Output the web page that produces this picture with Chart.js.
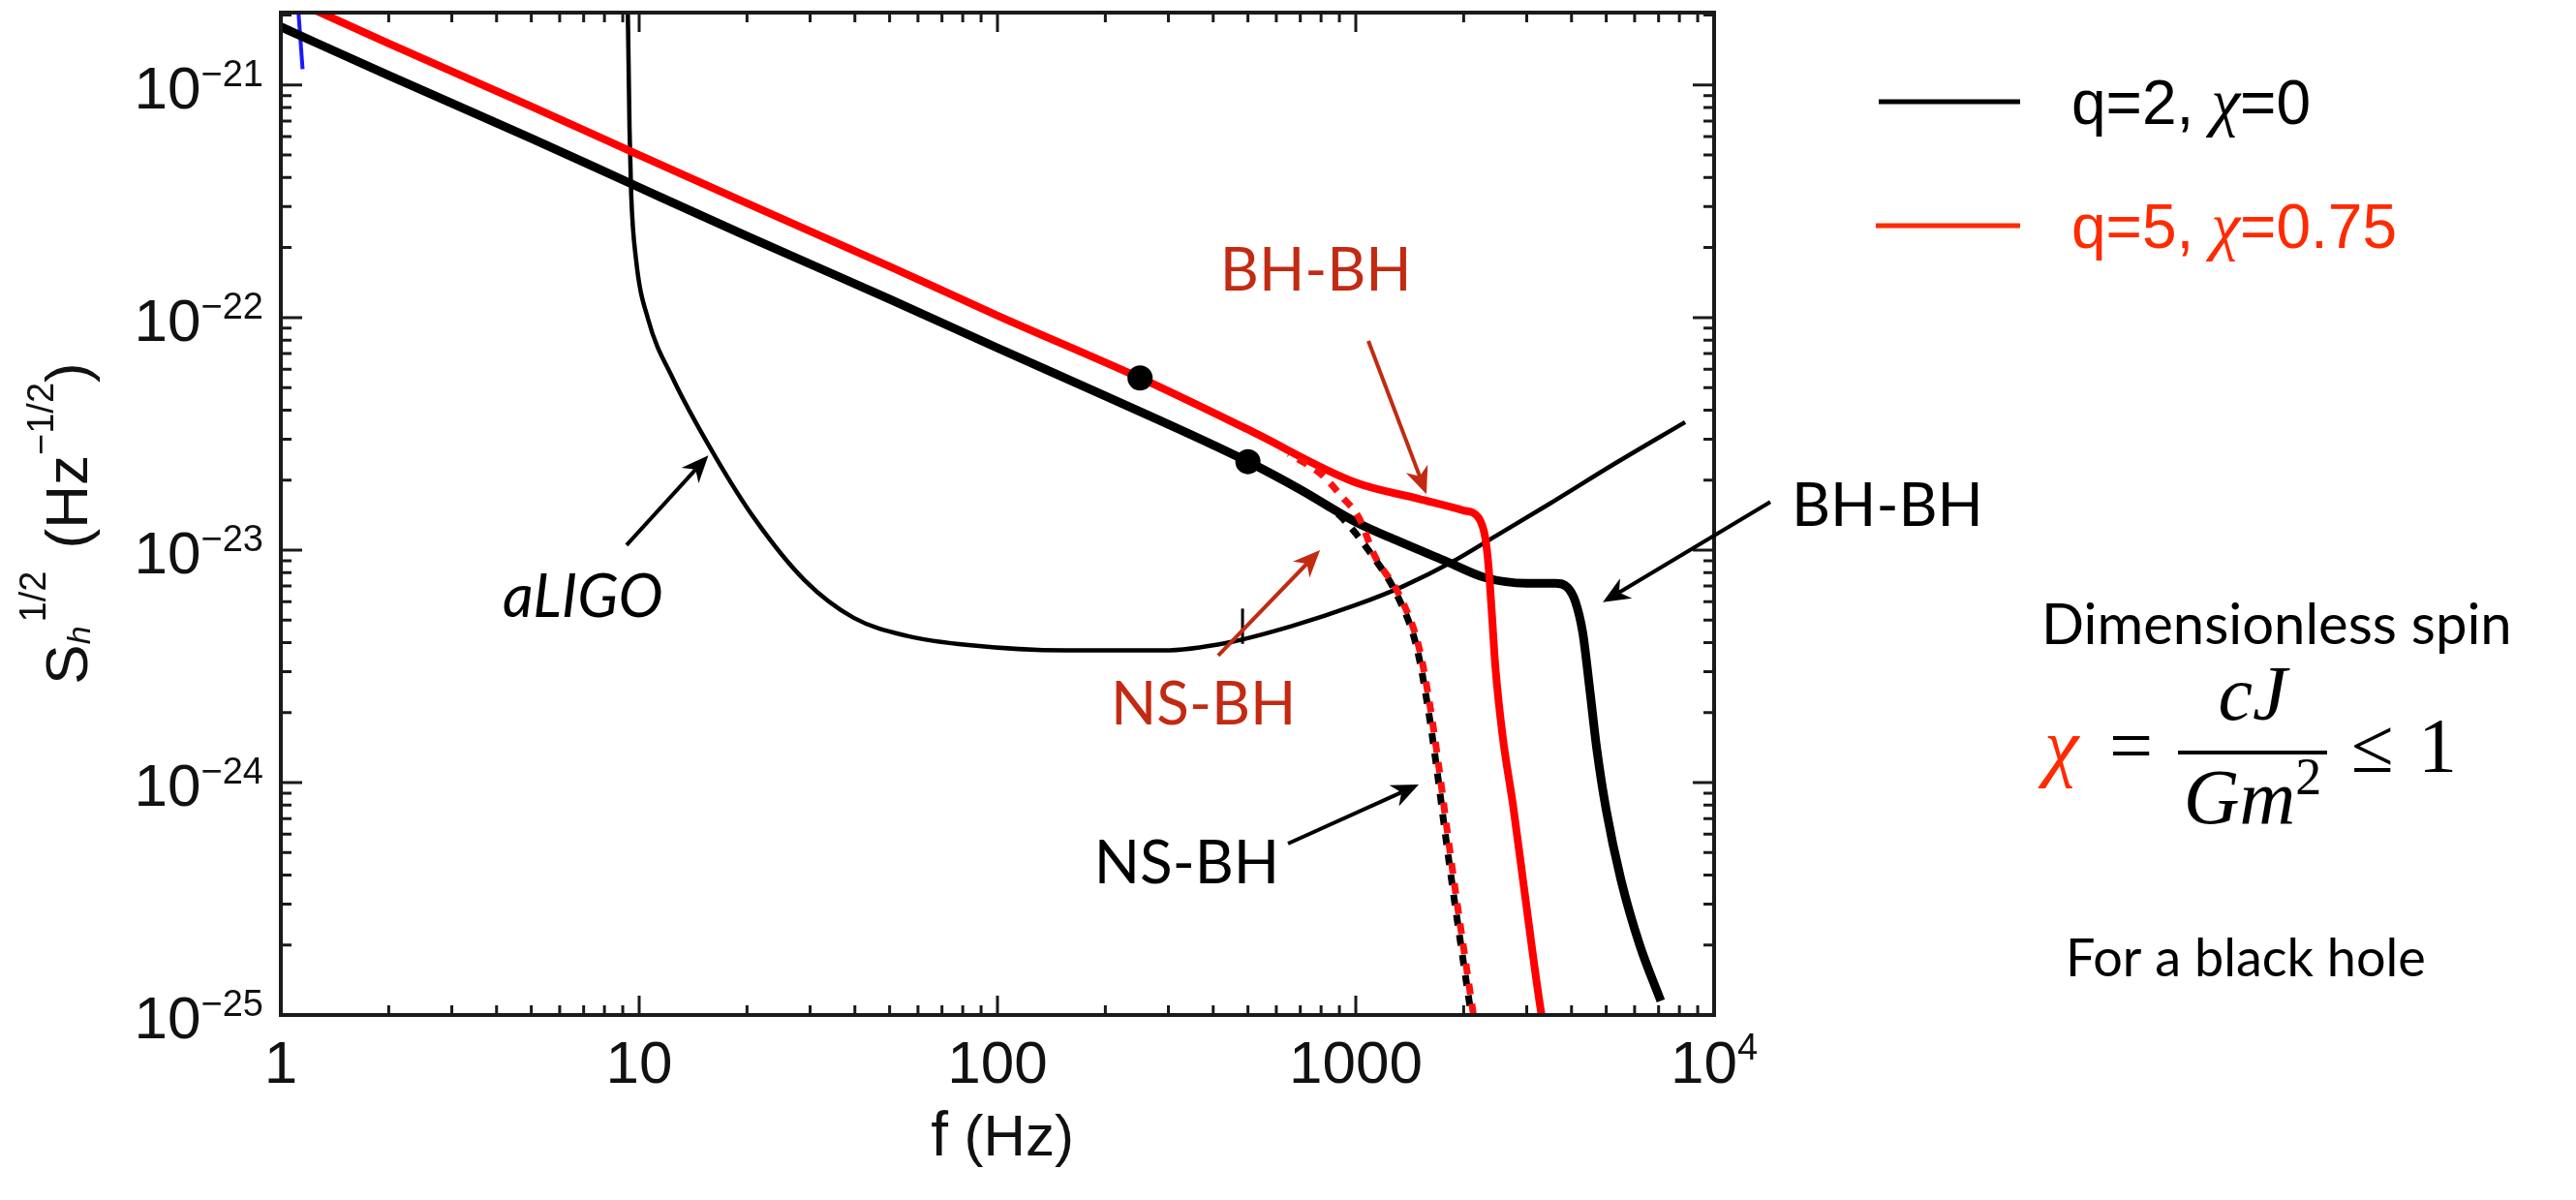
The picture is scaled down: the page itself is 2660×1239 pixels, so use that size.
<!DOCTYPE html>
<html>
<head>
<meta charset="utf-8">
<script src="https://cdn.jsdelivr.net/npm/chart.js@4.4.1/dist/chart.umd.min.js"></script>
<style>
  html, body { margin: 0; padding: 0; background: #fff; }
  canvas { display: block; }
</style>
</head>
<body>
<canvas id="sens" width="2660" height="1239"></canvas>
<script>
// strain amplitude sqrt(S_h) in Hz^-1/2 against frequency in Hz

// BH-BH, q=2, chi=0
const bbhFreqQ2 = [1, 2, 5, 10, 20, 50, 100, 200, 500, 700, 1000, 1300, 1800, 2300, 3000, 3600, 3900, 4100, 4300, 4500, 4700, 5000, 5500, 6200, 7100];
const bbhAmpQ2 = [1.78e-21, 1.10e-21, 5.9e-22, 3.63e-22, 2.24e-22, 1.20e-22, 7.4e-23, 4.6e-23, 2.4e-23, 1.82e-23, 1.32e-23, 1.10e-23, 8.9e-24, 7.6e-24, 7.2e-24, 7.2e-24, 6.9e-24, 6.0e-24, 4.4e-24, 2.5e-24, 1.41e-24, 7.6e-25, 3.8e-25, 2.0e-25, 1.15e-25];

// BH-BH, q=5, chi=0.75
const bbhFreqQ5 = [1, 2, 5, 10, 20, 50, 100, 250, 500, 1000, 1500, 2000, 2200, 2300, 2350, 2400, 2450, 2570, 2750, 2950, 3300, 3400];
const bbhAmpQ5 = [2.45e-21, 1.51e-21, 8.1e-22, 5.0e-22, 3.1e-22, 1.66e-22, 1.02e-22, 5.5e-23, 3.3e-23, 1.95e-23, 1.66e-23, 1.48e-23, 1.38e-23, 1.12e-23, 8.3e-24, 5.2e-24, 3.2e-24, 1.58e-24, 7.9e-25, 3.5e-25, 1.0e-25, 8e-26];

// NS-BH branches
const nsbhFreqQ2 = [800, 900, 1110, 1310, 1480, 1590, 1680, 1770, 1880, 2000, 2100];
const nsbhAmpQ2 = [1.6e-23, 1.41e-23, 9.5e-24, 6.3e-24, 3.8e-24, 2.1e-24, 1.17e-24, 6.3e-25, 3.2e-25, 1.66e-25, 1.0e-25];
const nsbhFreqQ5 = [650, 800, 920, 1020, 1127, 1330, 1502, 1614, 1705, 1797, 1908, 2030, 2130];
const nsbhAmpQ5 = [2.6e-23, 2.12e-23, 1.68e-23, 1.38e-23, 9.5e-24, 6.3e-24, 3.8e-24, 2.1e-24, 1.17e-24, 6.3e-25, 3.2e-25, 1.66e-25, 1.0e-25];

// aLIGO design noise
const aligoFreq = [9.2, 9.3, 9.4, 9.5, 9.8, 10.6, 12.4, 16.2, 21.1, 29, 39.8, 56, 83, 155, 290, 440, 660, 1000, 1360, 1860, 2390, 3470, 5250, 8300];
const aligoAsd = [1e-20, 2.0e-21, 6.5e-22, 3.4e-22, 1.78e-22, 9.8e-23, 5.5e-23, 2.57e-23, 1.35e-23, 7.4e-24, 5.1e-24, 4.27e-24, 3.9e-24, 3.7e-24, 3.7e-24, 4.0e-24, 4.7e-24, 5.8e-24, 7.0e-24, 8.9e-24, 1.12e-23, 1.58e-23, 2.34e-23, 3.55e-23];

// dots on the inspiral lines
const markerFreq = [250, 500];
const markerAmp = [5.5e-23, 2.4e-23];

// small stray strokes
const notchFreq = [483, 483];
const notchAmp = [3.95e-24, 5.6e-24];
const stubFreq = [1.12, 1.15];
const stubAmp = [2.05e-21, 1.17e-21];

// axes
const xTickValues = [1, 10, 100, 1000, 10000];
const xTickText = ['1', '10', '100', '1000', '10'];
const xTickSup = ['', '', '', '', '4'];
const yTickExp = [-21, -22, -23, -24, -25];

const sansFont = '"Liberation Sans", Arial, sans-serif';
const noteFont = 'Lato, "Noto Sans", sans-serif';
const mathFont = '"Liberation Serif", "Times New Roman", serif';
const noteRed = '#c22a12';

function pts(xs, ys) {
  return xs.map((x, i) => ({ x: x, y: ys[i] }));
}

// in-plot labels and arrows, placed in data coordinates
const notes = [
  { text: 'BH-BH', f: 418, s: 1.31e-22, color: noteRed, italic: false },
  { text: 'NS-BH', f: 207, s: 1.78e-24, color: noteRed, italic: false },
  { text: 'NS-BH', f: 186, s: 3.69e-25, color: '#000', italic: false },
  { text: 'BH-BH', f: 16450, s: 1.27e-23, color: '#000', italic: false },
  { text: 'aLIGO', f: 4.16, s: 5.15e-24, color: '#000', italic: true },
];
const pointers = [
  { from: [9.22, 1.05e-23], to: [15.6, 2.55e-23], color: '#000' },
  { from: [1084, 7.94e-23], to: [1575, 1.74e-23], color: noteRed },
  { from: [413, 3.52e-24], to: [795, 1.0e-23], color: noteRed },
  { from: [647, 5.46e-25], to: [1499, 9.8e-25], color: '#000' },
  { from: [14350, 1.61e-23], to: [4890, 5.96e-24], color: '#000' },
];

function drawRuns(ctx, x, y, runs) {
  let cx = x;
  runs.forEach((r) => {
    ctx.font = r.font;
    if (r.color) ctx.fillStyle = r.color;
    ctx.fillText(r.t, cx, y + (r.dy || 0));
    cx += ctx.measureText(r.t).width + (r.gap || 0);
  });
  return cx;
}

function runsWidth(ctx, runs) {
  let w = 0;
  runs.forEach((r) => {
    ctx.font = r.font;
    w += ctx.measureText(r.t).width + (r.gap || 0);
  });
  return w;
}

function arrow(ctx, x0, y0, x1, y1, color) {
  const a = Math.atan2(y1 - y0, x1 - x0);
  const c = Math.cos(a), s = Math.sin(a);
  const L = 28, W = 12;
  ctx.strokeStyle = color;
  ctx.fillStyle = color;
  ctx.lineWidth = 4;
  ctx.beginPath();
  ctx.moveTo(x0, y0);
  ctx.lineTo(x1 - L * 0.7 * c, y1 - L * 0.7 * s);
  ctx.stroke();
  ctx.beginPath();
  ctx.moveTo(x1, y1);
  ctx.lineTo(x1 - L * c + W * s, y1 - L * s - W * c);
  ctx.lineTo(x1 - L * 0.7 * c, y1 - L * 0.7 * s);
  ctx.lineTo(x1 - L * c - W * s, y1 - L * s + W * c);
  ctx.closePath();
  ctx.fill();
}

const framePlugin = {
  id: 'frame',
  afterDraw(chart) {
    const { ctx, chartArea: a, scales } = chart;
    const x = scales.x, y = scales.y;
    ctx.save();

    // frame and inward ticks on all four sides
    ctx.strokeStyle = '#1a1a1a';
    ctx.lineWidth = 4;
    ctx.strokeRect(a.left, a.top, a.right - a.left, a.bottom - a.top);
    ctx.lineWidth = 3;
    ctx.beginPath();
    for (let d = 1; d <= 10000; d *= 10) {
      for (let m = 1; m <= 9; m++) {
        const v = d * m;
        if (v > 10000) break;
        const px = x.getPixelForValue(v);
        const len = m === 1 ? 20 : 10;
        ctx.moveTo(px, a.bottom); ctx.lineTo(px, a.bottom - len);
        ctx.moveTo(px, a.top); ctx.lineTo(px, a.top + len);
      }
    }
    for (let e = -25; e <= -21; e++) {
      for (let m = 1; m <= 9; m++) {
        const v = m * Math.pow(10, e);
        if (v > y.max) break;
        const py = y.getPixelForValue(v);
        const len = m === 1 ? 22 : 11;
        ctx.moveTo(a.left, py); ctx.lineTo(a.left + len, py);
        ctx.moveTo(a.right, py); ctx.lineTo(a.right - len, py);
      }
    }
    ctx.stroke();

    // tick labels
    ctx.fillStyle = '#111';
    ctx.textBaseline = 'alphabetic';
    ctx.textAlign = 'left';
    xTickValues.forEach((v, i) => {
      const runs = [{ t: xTickText[i], font: '62px ' + sansFont }];
      if (xTickSup[i]) runs.push({ t: xTickSup[i], font: '38px ' + sansFont, dy: -24 });
      const w = runsWidth(ctx, runs);
      drawRuns(ctx, x.getPixelForValue(v) - w / 2, a.bottom + 70, runs);
    });
    yTickExp.forEach((e) => {
      const runs = [
        { t: '10', font: '62px ' + sansFont },
        { t: '\u2212' + Math.abs(e), font: '38px ' + sansFont, dy: -23 },
      ];
      const w = runsWidth(ctx, runs);
      drawRuns(ctx, a.left - 18 - w, y.getPixelForValue(Math.pow(10, e)) + 24, runs);
    });

    // axis titles
    const fx = [
      { t: 'f', font: '64px ' + sansFont },
      { t: ' (Hz)', font: '60px ' + sansFont },
    ];
    drawRuns(ctx, 1035 - runsWidth(ctx, fx) / 2, 1193, fx);

    ctx.save();
    ctx.translate(90, (a.top + a.bottom) / 2 + 10);
    ctx.rotate(-Math.PI / 2);
    const sy = [
      { t: 'S', font: '62px ' + sansFont },
      { t: 'h', font: 'italic 34px ' + sansFont, dy: 3, gap: 4 },
      { t: '1/2', font: '38px ' + sansFont, dy: -43, gap: 6 },
      { t: ' (Hz', font: '62px ' + sansFont },
      { t: '\u22121/2', font: '38px ' + sansFont, dy: -35 },
      { t: ')', font: '62px ' + sansFont },
    ];
    drawRuns(ctx, -runsWidth(ctx, sy) / 2, 0, sy);
    ctx.restore();

    // arrows and curve labels
    pointers.forEach((p) => {
      arrow(ctx,
        x.getPixelForValue(p.from[0]), y.getPixelForValue(p.from[1]),
        x.getPixelForValue(p.to[0]), y.getPixelForValue(p.to[1]), p.color);
    });
    notes.forEach((n) => {
      ctx.font = (n.italic ? 'italic ' : '') + '62px ' + noteFont;
      ctx.fillStyle = n.color;
      ctx.fillText(n.text, x.getPixelForValue(n.f), y.getPixelForValue(n.s));
    });

    // legend
    ctx.lineWidth = 5;
    ctx.strokeStyle = '#000';
    ctx.beginPath(); ctx.moveTo(1940, 105); ctx.lineTo(2086, 105); ctx.stroke();
    drawRuns(ctx, 2139, 128, [
      { t: 'q=2, ', font: '64px ' + sansFont, color: '#000' },
      { t: '\u03c7', font: 'italic 68px ' + mathFont },
      { t: '=0', font: '64px ' + sansFont },
    ]);
    ctx.strokeStyle = '#ff2a00';
    ctx.beginPath(); ctx.moveTo(1937, 233); ctx.lineTo(2086, 233); ctx.stroke();
    drawRuns(ctx, 2139, 256, [
      { t: 'q=5, ', font: '64px ' + sansFont, color: '#ff2a00' },
      { t: '\u03c7', font: 'italic 68px ' + mathFont },
      { t: '=0.75', font: '64px ' + sansFont },
    ]);

    // spin definition
    ctx.fillStyle = '#000';
    ctx.font = '58px ' + noteFont;
    ctx.fillText('Dimensionless spin', 2108, 665);
    drawRuns(ctx, 2111, 797, [{ t: '\u03c7', font: 'italic 80px ' + mathFont, color: '#ff2a00' }]);
    drawRuns(ctx, 2178, 797, [{ t: '=', font: '80px ' + mathFont, color: '#000' }]);
    ctx.fillRect(2249, 775, 154, 4);
    ctx.font = 'italic 80px ' + mathFont;
    const nw = ctx.measureText('cJ').width;
    ctx.fillText('cJ', 2326 - nw / 2, 743);
    const dn = [
      { t: 'Gm', font: 'italic 80px ' + mathFont },
      { t: '2', font: '54px ' + mathFont, dy: -30 },
    ];
    drawRuns(ctx, 2326 - runsWidth(ctx, dn) / 2, 850, dn);
    drawRuns(ctx, 2428, 797, [{ t: '\u2264', font: '80px ' + mathFont }]);
    drawRuns(ctx, 2497, 797, [{ t: '1', font: '80px ' + mathFont }]);
    ctx.font = '54px ' + noteFont;
    ctx.fillText('For a black hole', 2133, 1008);

    ctx.restore();
  },
};

const lineStyle = { showLine: true, pointRadius: 0, clip: 0, cubicInterpolationMode: 'monotone' };

new Chart(document.getElementById('sens'), {
  type: 'scatter',
  data: {
    datasets: [
      { label: 'markers', data: pts(markerFreq, markerAmp), showLine: false, pointRadius: 13,
        pointBackgroundColor: '#000', pointBorderWidth: 0, clip: 0 },
      Object.assign({ label: 'NS-BH q=5', data: pts(nsbhFreqQ5, nsbhAmpQ5), borderColor: '#ff1010',
        borderWidth: 7, borderDash: [11, 10], borderDashOffset: 10 }, lineStyle),
      Object.assign({ label: 'NS-BH q=2', data: pts(nsbhFreqQ2, nsbhAmpQ2), borderColor: '#000',
        borderWidth: 7, borderDash: [11, 10] }, lineStyle),
      Object.assign({ label: 'q=5, chi=0.75', data: pts(bbhFreqQ5, bbhAmpQ5), borderColor: '#ff0000',
        borderWidth: 8 }, lineStyle),
      Object.assign({ label: 'q=2, chi=0', data: pts(bbhFreqQ2, bbhAmpQ2), borderColor: '#000',
        borderWidth: 9 }, lineStyle),
      Object.assign({ label: 'aLIGO', data: pts(aligoFreq, aligoAsd), borderColor: '#000',
        borderWidth: 4.5 }, lineStyle),
      { label: 'notch', data: pts(notchFreq, notchAmp), showLine: true, pointRadius: 0, clip: 0,
        borderColor: '#000', borderWidth: 3 },
      { label: 'stub', data: pts(stubFreq, stubAmp), showLine: true, pointRadius: 0, clip: 0,
        borderColor: '#1a1aff', borderWidth: 4 },
    ],
  },
  options: {
    responsive: false,
    animation: false,
    devicePixelRatio: 1,
    layout: { padding: { left: 0, right: 890, top: 13, bottom: 0 } },
    plugins: { legend: { display: false }, tooltip: { enabled: false } },
    scales: {
      x: {
        type: 'logarithmic', min: 1, max: 10000,
        ticks: { display: false }, grid: { display: false }, border: { display: false },
        afterFit: (s) => { s.height = 191; },
      },
      y: {
        type: 'logarithmic', min: 1e-25, max: 2.05e-21,
        ticks: { display: false }, grid: { display: false }, border: { display: false },
        afterFit: (s) => { s.width = 290; },
      },
    },
  },
  plugins: [framePlugin],
});
</script>
</body>
</html>
